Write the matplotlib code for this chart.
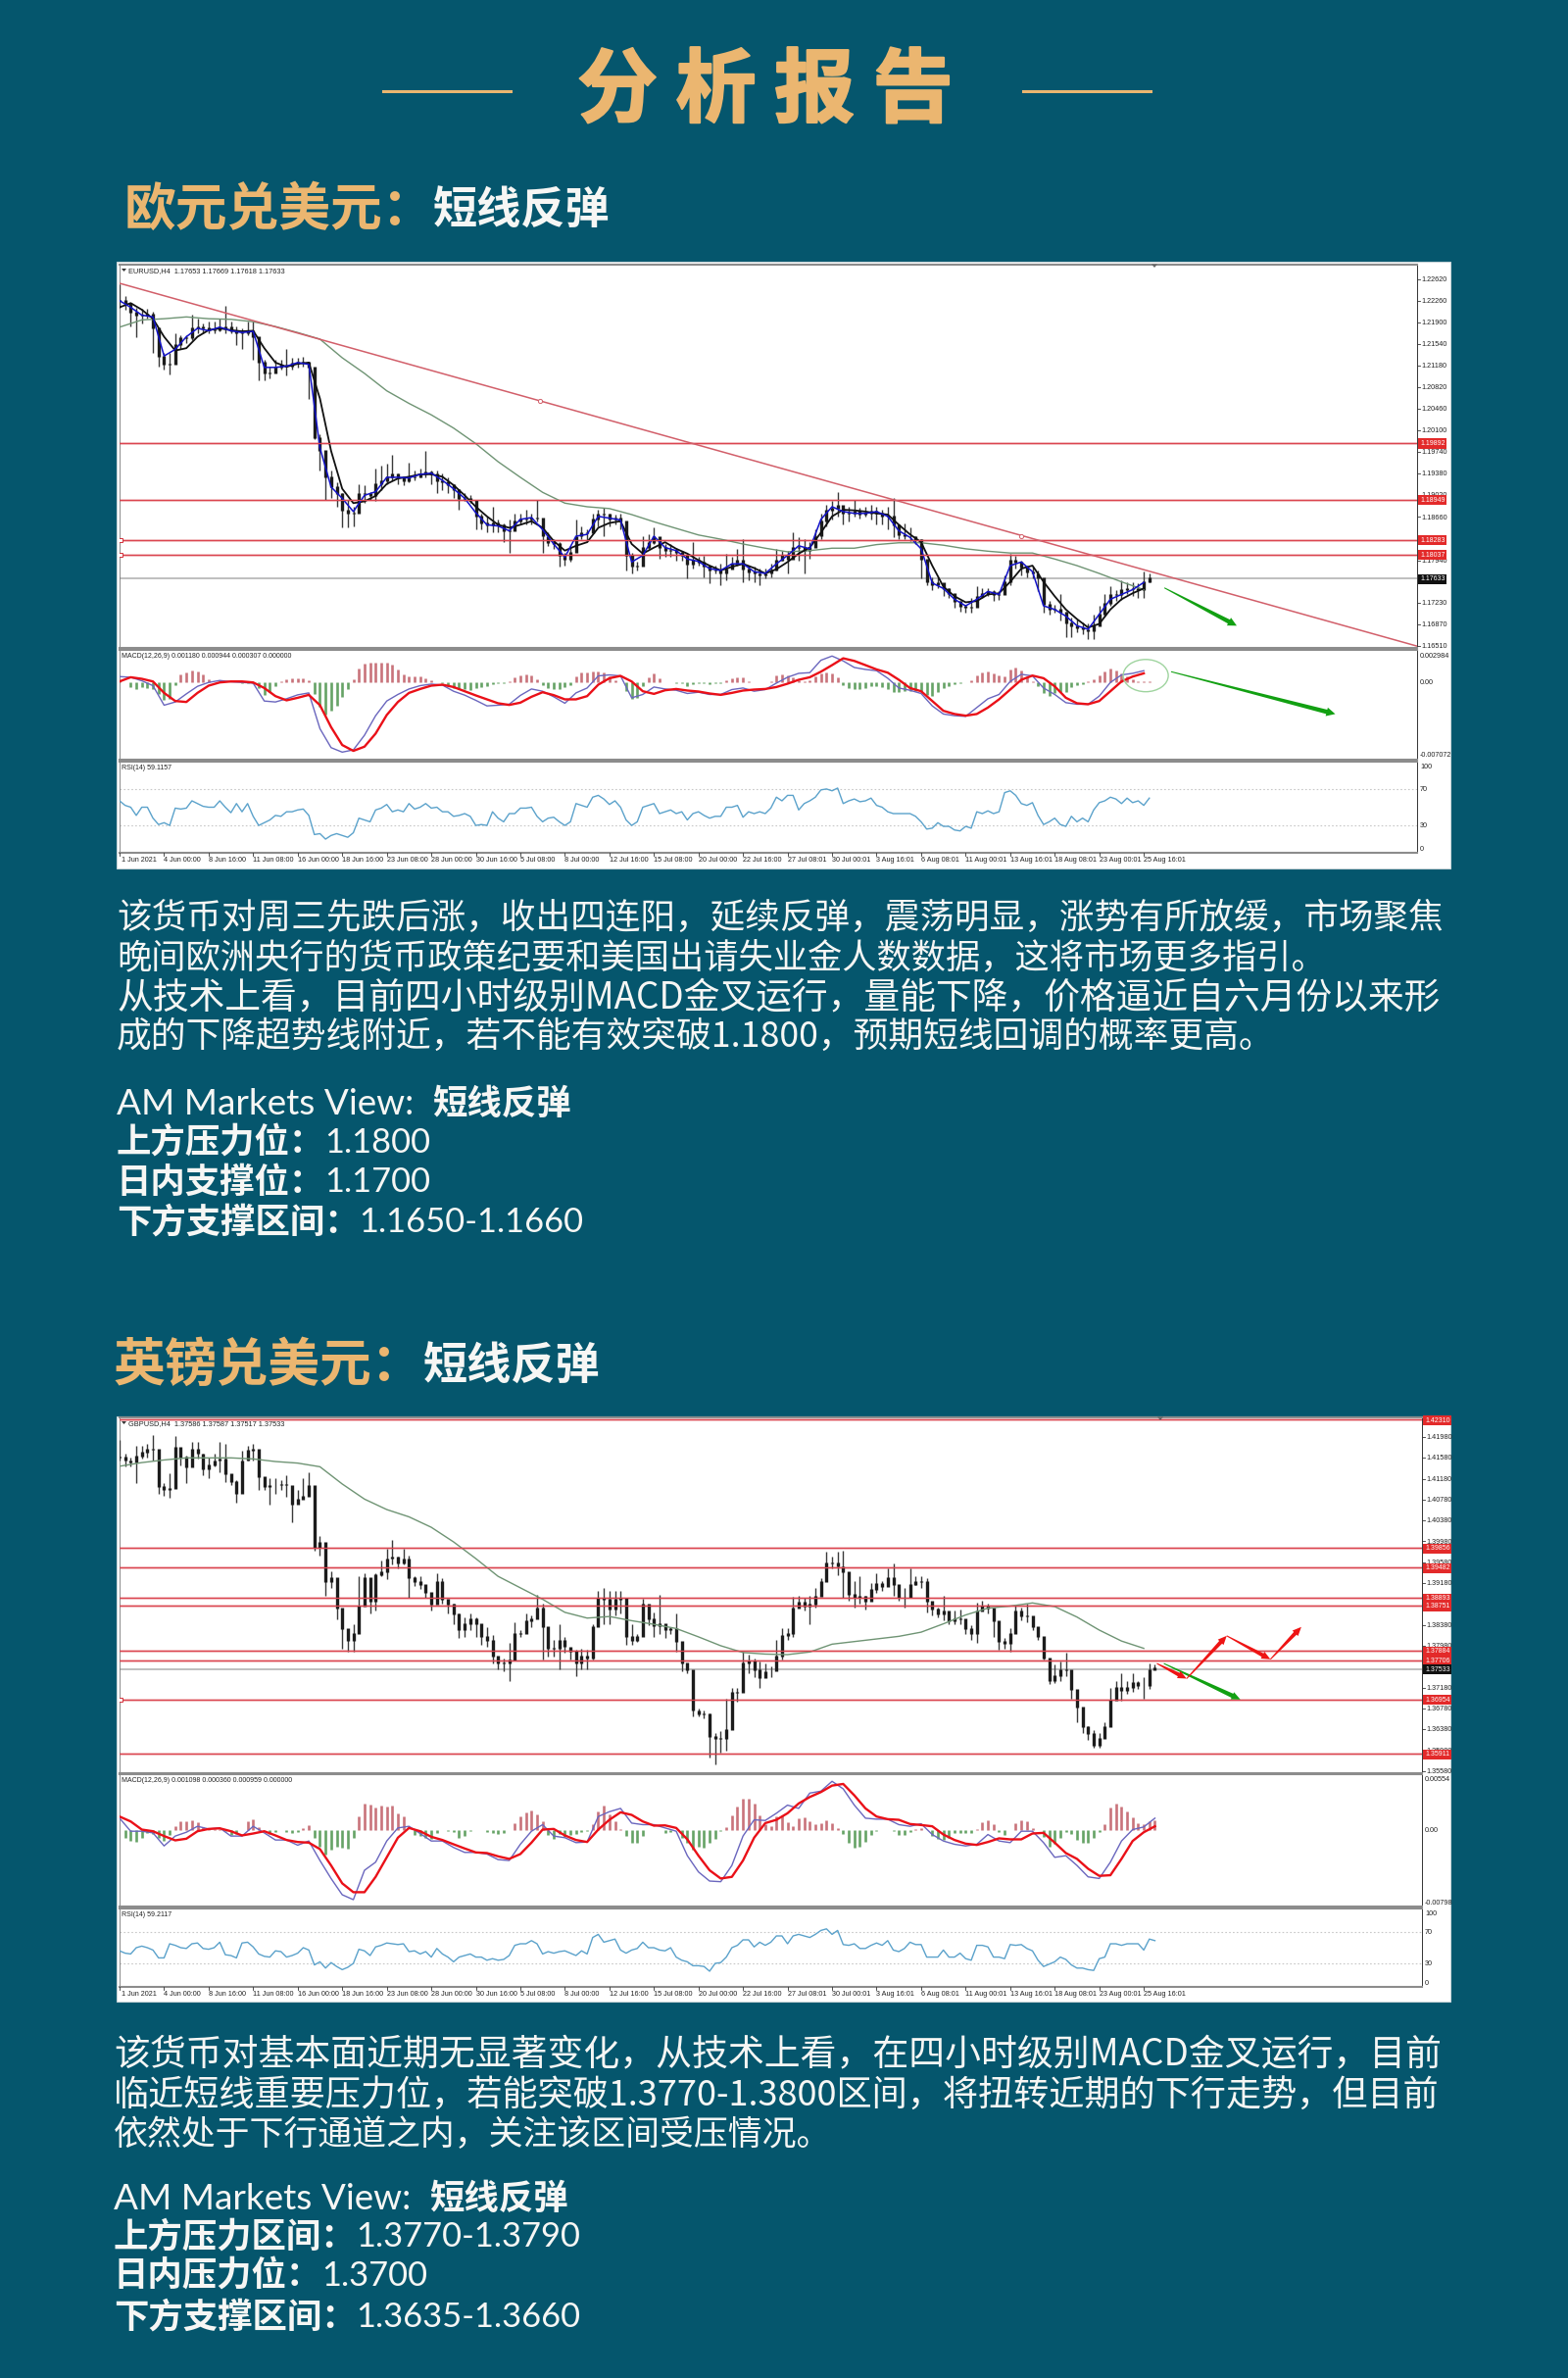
import matplotlib
matplotlib.use("Agg")
import numpy as np
import matplotlib.pyplot as plt
import matplotlib.patheffects as pe
from matplotlib.patches import Rectangle, Polygon, Ellipse
from matplotlib.transforms import IdentityTransform

W, H = 1600, 2426
CJK = ['Noto Sans CJK SC', 'DejaVu Sans']
plt.rcParams['font.family'] = CJK

# ---------- EURUSD H4 (prices in 1/10000, one candle per 2 bars, lines per 4 bars) ----------
eur_close = [12226,12221,12207,12202,12202,12204,12180,12134,12120,12120,12153,12164,12164,12180,12183,12180,12177,12178,12180,12182,
12176,12173,12172,12176,12166,12123,12106,12106,12116,12118,12117,12122,12123,12124,12115,11998,11976,11932,11916,11905,
11878,11872,11872,11905,11905,11902,11921,11927,11932,11938,11932,11927,11932,11933,11937,11941,11937,11927,11924,11919,
11911,11897,11897,11894,11867,11856,11853,11856,11852,11843,11843,11859,11862,11863,11864,11864,11834,11824,11821,11802,
11796,11807,11834,11840,11840,11862,11870,11870,11862,11864,11859,11802,11785,11785,11815,11824,11834,11815,11810,11810,
11807,11802,11788,11794,11791,11785,11777,11777,11772,11780,11788,11794,11780,11775,11772,11769,11772,11777,11794,11802,11796,
11815,11815,11810,11815,11834,11859,11878,11881,11885,11872,11872,11875,11870,11872,11875,11872,11867,11867,11853,11837,
11834,11834,11829,11796,11758,11753,11756,11747,11739,11726,11718,11715,11715,11734,11739,11742,11737,11737,11758,11794,
11791,11783,11775,11772,11764,11720,11712,11712,11707,11690,11685,11682,11679,11677,11685,11704,11723,11737,11737,11745,
11747,11747,11745,11758,11764]
eur_high = [12253,12234,12223,12215,12213,12213,12207,12161,12139,12139,12172,12169,12169,12202,12196,12188,12191,12191,12196,12218,
12191,12183,12180,12191,12191,12166,12128,12117,12128,12128,12145,12131,12131,12133,12125,12101,12003,11976,11943,11924,
11905,11894,11883,11921,11919,11908,11946,11951,11954,11970,11938,11932,11957,11943,11946,11976,11943,11943,11938,11932,
11921,11913,11905,11902,11894,11872,11867,11883,11862,11856,11862,11872,11872,11878,11872,11894,11862,11840,11829,11824,
11807,11818,11862,11851,11845,11872,11878,11881,11872,11870,11872,11851,11807,11791,11834,11837,11848,11824,11821,11821,
11815,11810,11805,11824,11799,11802,11785,11785,11788,11805,11799,11813,11829,11785,11783,11780,11780,11788,11813,11810,11810,
11840,11832,11829,11824,11845,11872,11886,11892,11908,11883,11883,11894,11881,11883,11886,11883,11878,11883,11897,11851,
11856,11848,11834,11829,11780,11766,11766,11756,11747,11737,11726,11720,11731,11750,11747,11747,11745,11742,11769,11805,
11802,11794,11785,11783,11777,11758,11726,11720,11737,11709,11699,11696,11690,11688,11704,11718,11737,11750,11745,11761,
11758,11758,11756,11775,11772]
eur_low = [12215,12211,12183,12166,12188,12196,12139,12117,12112,12104,12123,12145,12155,12161,12172,12172,12172,12172,12175,12172,
12172,12153,12145,12169,12128,12093,12093,12096,12112,12112,12101,12112,12115,12117,12063,11995,11943,11894,11897,11883,
11848,11848,11851,11889,11889,11894,11892,11911,11921,11927,11921,11919,11924,11927,11932,11932,11921,11905,11911,11905,
11897,11878,11892,11889,11845,11846,11840,11840,11840,11824,11807,11845,11853,11853,11853,11859,11807,11818,11813,11783,
11785,11791,11818,11829,11824,11840,11851,11834,11851,11853,11845,11777,11772,11777,11796,11813,11821,11796,11799,11799,
11794,11794,11764,11780,11785,11766,11756,11772,11752,11761,11780,11785,11758,11761,11758,11753,11764,11766,11777,11794,11772,
11796,11794,11772,11796,11818,11829,11851,11862,11867,11853,11859,11867,11864,11867,11862,11853,11853,11845,11832,11829,
11829,11826,11821,11764,11753,11744,11747,11734,11731,11715,11709,11707,11707,11720,11731,11734,11726,11728,11737,11753,
11780,11769,11766,11764,11742,11707,11704,11707,11693,11666,11666,11674,11671,11663,11663,11688,11701,11718,11726,11728,
11737,11734,11731,11731,11758]
eur_ma_fast = [12226,12215,12202,12199,12134,12145,12166,12180,12176,12182,12176,12173,12175,12115,12115,12117,12123,12120,11981,11916,
11897,11875,11902,11908,11932,11932,11931,11937,11939,11927,11913,11897,11873,11853,11851,11843,11862,11865,11845,11821,
11799,11834,11837,11867,11864,11861,11791,11802,11834,11815,11810,11796,11792,11780,11777,11788,11788,11775,11772,11788,11802,
11818,11813,11862,11883,11875,11872,11872,11875,11867,11843,11832,11813,11756,11747,11729,11718,11729,11742,11737,11785,
11791,11775,11718,11712,11701,11685,11679,11704,11729,11737,11745,11757]
eur_ma_mid = [12215,12222,12211,12196,12166,12143,12147,12166,12177,12180,12177,12175,12176,12147,12123,12116,12121,12123,12063,11976,
11913,11889,11892,11901,11921,11930,11933,11937,11937,11933,11919,11902,11883,11867,11853,11848,11853,11859,11848,11826,
11810,11818,11824,11848,11856,11859,11821,11805,11815,11824,11813,11805,11794,11785,11777,11783,11788,11781,11772,11779,11791,
11805,11815,11840,11867,11878,11877,11875,11872,11870,11853,11837,11824,11785,11750,11734,11724,11726,11737,11739,11758,
11780,11785,11758,11734,11712,11696,11682,11688,11712,11729,11739,11747]
# long moving average: one value per 8 bars
eur_ma_long = [12182,12194,12196,12199,12196,12195,12191,12183,12173,12162,12131,12105,12076,12055,12036,12014,11988,11958,11932,11907,
11889,11883,11880,11870,11858,11847,11836,11829,11821,11814,11808,11810,11814,11814,11820,11823,11823,11819,11813,11809,
11806,11806,11796,11785,11772,11758,11745]
eur_levels = [1.19892, 1.18949, 1.18283, 1.18037]
eur_last = 1.17633
eur_ticks = [1.22620,1.22260,1.21900,1.21540,1.21180,1.20820,1.20460,1.20100,1.19740,1.19380,1.19020,1.18660,1.17940,1.17230,1.16870,1.16510]
eur_trend_bars = [0, 466.2]
eur_trend_price = [1.2255, 1.1651]
# MACD in 1/1000: main and signal per 4 bars, histogram per 2 bars
eur_macd = [.60,.53,.17,-.33,-2.33,-2.0,-1.17,-.40,0,.2,.07,0,-.07,-1.9,-2.0,-1.67,-1.27,-1.07,-4.73,-6.67,-7.13,-6.9,-5.4,-3.4,-1.9,-1.23,-.67,-.33,-.17,-.27,
-.9,-1.3,-1.83,-2.4,-2.33,-2.23,-1.33,-.67,-.9,-1.47,-2.13,-1.07,-.57,.67,.77,.67,-1.57,-1.23,-.47,-.67,-.8,-1.13,-1.0,-1.23,-1.23,-.73,-.57,-.9,-.73,-.07,.53,
.93,1.0,2.27,2.7,2.2,1.53,1.33,1.2,.43,-.57,-.8,-1.13,-2.4,-3.23,-3.4,-3.47,-2.57,-1.67,-1.23,.1,.83,.67,-.57,-1.23,-2.07,-2.23,-2.23,-1.4,0,.77,.93,1.2]
eur_signal = [.1,.53,.37,.1,-1.07,-1.9,-2,-1.07,-.33,0,.1,.1,0,-.57,-1.4,-1.83,-1.57,-1.27,-2.33,-4.57,-6.4,-7,-6.57,-5.23,-3.33,-2,-1.07,-.67,-.33,-.23,
-.47,-.9,-1.33,-1.73,-2.13,-2.3,-2.07,-1.47,-1,-1.3,-1.73,-1.73,-1.4,-.23,.43,.67,.1,-.9,-1.17,-.8,-.67,-.83,-.93,-1.13,-1.27,-1.07,-.83,-.73,-.67,-.47,-.13,
.27,.53,1.1,1.77,2.47,2.2,1.77,1.33,1,.27,-.57,-.9,-1.9,-2.9,-3.23,-3.4,-3.23,-2.57,-1.73,-.73,.27,.7,.43,-.4,-1.57,-2.13,-2.23,-1.9,-.9,.1,.6,.93]
eur_hist = [.1,.03,-.5,-.7,-.5,-.55,-.7,-1.2,-1.75,-1.7,-.3,.8,1.05,1.2,1.15,.8,.35,.05,0,0,0,0,-.03,-.03,-.1,-.6,-1.25,-1.0,-.35,.1,.35,.45,.47,.45,.2,-1.2,-2.5,-3.3,-2.9,-2.4,-1.5,-.7,.3,1.4,1.9,2.0,2.0,2.05,2.0,1.85,1.3,.85,.65,.6,.6,.45,.2,0,-.1,-.4,-.6,-.7,-.65,-.8,-.6,-.5,-.4,-.2,-.07,-.03,.1,.5,.75,.85,.7,.3,-.3,-.6,-.65,-.65,-.5,-.3,.6,1.0,1.05,1.1,1.15,1.0,.6,.25,.05,-.85,-1.7,-1.6,-.4,.5,.9,.4,.05,.02,-.05,-.07,-.33,-.2,-.05,-.1,-.15,-.1,-.07,.2,.4,.55,.5,.1,.03,.05,.05,.1,.7,.8,.75,
.55,.25,.15,.25,.6,.9,1.05,.9,.5,-.3,-.55,-.65,-.65,-.55,-.35,-.35,-.5,-.7,-.95,-1.0,-.85,-.85,-.9,-1.0,-1.25,-1.35,-.95,-.6,-.35,-.15,-.05,0,.25,.7,1.05,1.1,.9,.7,.65,1.3,1.5,1.2,.6,.1,-.4,-1.1,-1.35,-1.1,-1.0,-.95,-.5,-.3,-.15,.1,.35,.7,1.1,1.4,1.2,.9,.6,.35,.15,.1,.15]
eur_rsi = [57,52,50,41,50,50,38,31,33,30,49,48,49,57,54,51,50,50,57,50,44,54,45,54,40,30,33,36,41,40,45,45,47,48,41,20,21,15,19,21,19,17,22,38,36,34,47,49,53,45,47,45,54,48,50,54,49,50,45,45,40,41,43,40,30,31,30,45,38,34,43,43,49,49,50,40,34,38,39,34,30,34,54,52,50,61,63,59,53,57,50,36,30,34,50,52,54,43,45,47,43,45,36,43,45,41,38,40,40,50,50,52,39,45,43,45,43,49,61,57,63,
63,47,54,57,61,69,70,68,71,54,57,59,56,57,60,52,50,45,43,43,43,43,40,34,26,27,33,29,29,25,24,29,27,45,43,46,43,45,66,68,63,54,52,55,41,31,34,38,31,29,40,34,38,34,47,55,57,61,59,54,60,55,57,52,60]

# ---------- GBPUSD H4 ----------
gbp_close = [14159,14153,14150,14162,14169,14175,14175,14103,14097,14100,14178,14159,14141,14175,14166,14137,14144,14153,14156,14128,
14112,14090,14153,14172,14175,14122,14103,14106,14106,14108,14106,14069,14078,14084,14106,13987,13997,13921,13928,13871,
13831,13809,13821,13874,13928,13884,13934,13940,13965,13968,13956,13965,13928,13921,13915,13900,13878,13921,13887,13878,
13859,13828,13840,13849,13840,13815,13809,13778,13765,13765,13771,13821,13821,13846,13849,13871,13834,13793,13793,13809,
13796,13787,13765,13778,13774,13834,13890,13887,13868,13887,13890,13815,13809,13815,13878,13849,13837,13840,13828,13831,
13806,13765,13752,13674,13668,13668,13624,13621,13621,13637,13709,13709,13765,13768,13752,13737,13749,13749,13778,13818,13821,
13871,13881,13874,13878,13893,13921,13956,13956,13950,13940,13896,13890,13893,13884,13906,13918,13912,13928,13915,13890,
13890,13915,13921,13921,13884,13868,13859,13865,13846,13849,13849,13831,13821,13865,13874,13871,13846,13806,13803,13821,
13865,13856,13856,13834,13815,13774,13731,13740,13752,13752,13715,13680,13643,13630,13608,13621,13643,13693,13718,13712,
13718,13727,13721,13721,13752,13755]
gbp_high = [14192,14166,14159,14181,14181,14184,14202,14153,14109,14128,14200,14172,14162,14188,14188,14166,14159,14166,14188,14184,
14122,14116,14172,14181,14184,14156,14119,14119,14119,14116,14125,14087,14097,14119,14131,14103,14009,13962,13940,13912,
13862,13828,13840,13931,13937,13915,13937,13962,13984,14000,13968,13984,13971,13931,13931,13915,13893,13937,13928,13887,
13878,13859,13853,13859,13853,13840,13834,13818,13774,13774,13803,13843,13828,13859,13856,13896,13878,13809,13809,13840,
13815,13793,13790,13793,13790,13840,13903,13909,13904,13903,13903,13859,13840,13821,13889,13865,13862,13896,13840,13834,
13859,13787,13759,13712,13677,13674,13668,13630,13634,13696,13718,13718,13787,13781,13774,13768,13765,13759,13809,13831,13831,
13891,13893,13890,13893,13909,13928,13978,13968,13978,13981,13909,13921,13931,13893,13918,13937,13921,13946,13956,13900,
13909,13946,13931,13931,13928,13878,13871,13893,13853,13865,13868,13846,13837,13881,13885,13878,13865,13815,13812,13831,
13874,13871,13878,13843,13834,13809,13774,13762,13768,13784,13740,13696,13652,13643,13637,13630,13652,13718,13731,13746,
13731,13746,13731,13737,13765,13762]
gbp_low = [14153,14141,14141,14110,14156,14159,14153,14090,14085,14081,14122,14144,14109,14144,14156,14125,14119,14141,14131,14112,
14106,14072,14106,14153,14153,14097,14097,14069,14090,14097,14084,14034,14072,14081,14097,13981,13971,13893,13909,13849,
13793,13787,13787,13871,13909,13859,13865,13931,13925,13953,13947,13953,13890,13912,13906,13890,13865,13893,13878,13859,
13840,13812,13815,13828,13815,13799,13796,13765,13752,13749,13731,13799,13815,13834,13834,13856,13771,13778,13778,13752,
13784,13771,13740,13752,13752,13771,13853,13840,13840,13856,13859,13799,13799,13806,13840,13837,13815,13821,13812,13821,
13787,13749,13746,13662,13662,13659,13583,13571,13593,13596,13690,13690,13727,13746,13737,13718,13740,13737,13752,13771,13809,
13815,13871,13865,13840,13871,13900,13928,13946,13934,13890,13884,13871,13878,13868,13884,13900,13903,13912,13893,13884,
13871,13900,13915,13909,13862,13856,13853,13846,13840,13840,13840,13821,13809,13803,13865,13859,13815,13790,13793,13787,
13846,13846,13843,13828,13809,13771,13724,13727,13731,13740,13696,13652,13630,13618,13602,13602,13627,13652,13702,13693,
13706,13709,13715,13696,13715,13752]
gbp_ma_long = [14142,14149,14154,14158,14158,14158,14156,14151,14148,14141,14108,14079,14059,14045,14025,13997,13965,13931,13909,13887,
13862,13851,13854,13846,13839,13831,13815,13798,13785,13782,13781,13786,13801,13806,13811,13816,13824,13840,13857,13870,
13874,13880,13873,13853,13828,13807,13793]
gbp_levels = [1.42310, 1.39856, 1.39482, 1.38893, 1.38751, 1.37884, 1.37706, 1.36954, 1.35911]
gbp_last = 1.37533
gbp_ticks = [1.41980,1.41580,1.41180,1.40780,1.40380,1.39980,1.39580,1.39180,1.38380,1.37980,1.37180,1.36780,1.36380,1.35980,1.35580]
gbp_macd = [1.25,-.18,-.18,-.36,-1.79,-.71,-.29,.36,.07,.18,-.71,-.71,.36,-.36,-1.14,-1.14,-1.71,-1.25,-3.39,-5.36,-7.14,-7.68,-4.46,-3.57,-1.25,.18,.36,-.43,-1.25,-1.25,
-1.96,-2.5,-2.5,-2.68,-3.29,-3.39,-1.61,-.18,.54,-.71,-.89,-1.43,-1.36,1.43,1.96,2.32,.71,.54,.54,.18,-.18,-2.86,-4.64,-5.64,-5.71,-3.93,-.71,1.07,1.0,1.79,2.68,
2.32,4.0,4.21,5.29,4.46,2.68,1.25,1.14,1.14,.54,.36,.64,-.54,-1.25,-1.61,-1.79,-1.61,-.54,-1.25,-1.43,-.18,-.18,-1.43,-3.04,-2.86,-3.93,-5.18,-5.36,-3.57,-1.25,0,.29,1.25]
gbp_signal = [1.43,.89,0,-.18,-.71,-1.18,-1.0,-.18,.07,.14,-.18,-.64,-.43,-.18,-.64,-1.14,-1.36,-1.43,-2.14,-3.93,-5.89,-6.86,-6.86,-5.18,-3.04,-.89,.18,-.18,-.79,-1.14,
-1.61,-2.07,-2.5,-2.57,-2.93,-3.21,-2.68,-1.43,0,.07,-.64,-1.14,-1.36,0,1.07,1.89,1.61,.89,.43,.46,.18,-1.07,-2.86,-4.46,-5.36,-5.18,-3.39,-.89,.71,1.07,1.79,
2.86,3.57,4.11,4.82,5.0,3.75,2.32,1.43,1.14,1.07,.61,.5,.36,-.54,-1.14,-1.54,-1.68,-1.36,-.96,-1.07,-1.07,-.43,-.36,-1.43,-2.57,-3.21,-4.29,-5.07,-5,-3.21,-1.25,-.29,.36]
gbp_hist = [0,-.9,-1.2,-1.3,-.9,-.4,-.5,-.9,-1.2,-.6,.4,.9,.9,1.0,.8,.3,.05,.05,.05,-.2,-.6,-.5,-.1,.9,1.1,.3,-.1,-.5,-.3,-.1,-.3,-.4,-.3,.2,.5,-.9,-1.9,-2.7,-2.2,-1.9,-2.0,-2.1,-.9,1.4,2.9,2.7,2.4,2.6,2.5,2.6,1.8,1.4,-.1,-.6,-.7,-.9,-1.0,-.4,-.1,-.2,-.3,-.9,-.7,-.2,-.05,-.05,-.3,-.4,-.5,-.4,-.1,.7,1.4,1.9,2.1,1.7,.9,-.6,-1.0,-.5,-.8,-.6,-.5,-.3,-.2,.6,2.0,2.6,1.7,.9,.1,-.7,-1.4,-1.5,-.7,-.05,0,-.1,-.4,-.3,-.1,-.9,-1.5,-2.2,-1.9,-2.0,-1.4,-1.0,-.2,.3,1.6,2.5,3.4,3.4,2.9,1.6,.6,.4,1.4,1.6,.8,
.4,1.2,1.3,.9,.6,.7,1.0,.7,.2,-.5,-1.5,-2.0,-1.9,-1.3,-.6,-.2,-.05,0,-.2,-.6,-.6,-.3,.1,.2,0,-.7,-1.0,-1.1,-.9,-.4,-.4,-.4,-.4,.1,.8,1.0,.6,-.3,-.6,-.1,.7,1.0,.9,.2,-.1,-.8,-1.9,-1.6,-.9,-.3,-.5,-1.1,-1.5,-1.4,-.9,-.3,.6,2.4,2.9,2.5,2.0,1.3,.7,.6,.9,1.0]
gbp_rsi = [46,43,42,50,52,50,47,37,37,55,53,50,49,55,56,49,48,50,57,41,40,37,56,57,51,42,39,38,46,45,38,40,43,50,47,28,32,24,31,26,22,25,30,48,46,40,51,53,56,55,54,55,45,46,42,45,38,49,42,38,32,38,40,42,38,38,34,36,34,35,40,53,55,55,59,55,42,45,43,45,46,43,40,46,42,63,67,57,59,61,47,43,47,49,57,50,50,47,46,50,38,34,32,27,27,26,20,30,31,38,50,53,60,60,51,57,53,57,65,65,55,
65,67,65,63,67,72,74,67,72,54,53,55,49,49,53,56,53,59,47,45,49,57,54,54,38,38,38,47,38,38,43,36,34,53,53,51,38,38,36,54,53,54,49,46,34,26,29,32,38,35,28,24,24,22,21,36,38,55,55,53,55,55,55,47,61,59]

date_labels = ['1 Jun 2021','4 Jun 00:00','8 Jun 16:00','11 Jun 08:00','16 Jun 00:00','18 Jun 16:00','23 Jun 08:00','28 Jun 00:00',
'30 Jun 16:00','5 Jul 08:00','8 Jul 00:00','12 Jul 16:00','15 Jul 08:00','20 Jul 00:00','22 Jul 16:00','27 Jul 08:01',
'30 Jul 00:01','3 Aug 16:01','6 Aug 08:01','11 Aug 00:01','13 Aug 16:01','18 Aug 08:01','23 Aug 00:01','25 Aug 16:01']
date_step = 16

BG = '#05566D'; GOLD = '#EBB670'; WHITE = '#F6F6F4'
fig = plt.figure(figsize=(W/100, H/100), dpi=100, facecolor=BG)
rend = fig.canvas.get_renderer()

def px_ax(x0, y0, x1, y1):
    a = fig.add_axes([x0/W, 1-y1/H, (x1-x0)/W, (y1-y0)/H], facecolor='white')
    a.set_xticks([]); a.set_yticks([])
    return a

def ptext(x, y, s, fs, color=WHITE, weight='normal', family=None, ha='left', va='center', fit=None, zorder=5, **kw):
    y = y + fs*0.12
    t = fig.text(x/W, 1-y/H, s, fontsize=fs, color=color, fontweight=weight,
                 family=family or CJK, ha=ha, va=va, zorder=zorder, **kw)
    if fit:
        w = t.get_window_extent(rend).width
        t.set_fontsize(fs*(fit-x)/w)
    return t

def runs(x, y, parts):
    for s, fs, weight, fam in parts:
        t = ptext(x, y, s, fs, weight=weight, family=fam)
        x = t.get_window_extent(rend).x1

def taper(ax, b0, p0, b1, p1, color, w0=1.0, w1=5.0, head=11.0, hl=12.0):
    a = ax.transData.transform((b0, p0)); b = ax.transData.transform((b1, p1))
    d = (b-a)/np.hypot(*(b-a)); n = np.array([-d[1], d[0]])
    neck = b-d*hl
    pts = [a+n*w0/2, neck+n*w1/2, neck+n*head/2, b, neck-n*head/2, neck-n*w1/2, a-n*w0/2]
    fig.add_artist(Polygon(pts, closed=True, color=color, lw=0, transform=IdentityTransform(), zorder=3))

SM = ['Liberation Sans', 'DejaVu Sans']
def small(ax_x, y, s, color='#222222', **kw):
    return ptext(ax_x, y, s, 5.2, color=color, family=SM, **kw)

def style_panel(a, xmax):
    a.set_xlim(0, xmax)
    for side in ('top', 'bottom'):
        a.spines[side].set_color('#8c8c8c'); a.spines[side].set_linewidth(1.5)
    a.spines['left'].set_color('#777777'); a.spines['left'].set_linewidth(0.6)
    a.spines['right'].set_color('#333333'); a.spines['right'].set_linewidth(0.7)

def level_label(ax, price, text, x, color='#E32A2A', tc='white'):
    yp = ax.transData.transform((0, price))[1]
    ptext(x, H-yp, text, 5.0, color=tc, family=SM, zorder=6,
          bbox=dict(boxstyle='square,pad=0.22', fc=color, ec='none'))

def draw_chart(frame, main, macd, rsi, xr, hdr, ind, close, high, low, mal, levels, last, ticks, pyl,
               m_main, m_sig, m_hist, m_ylim, m_lab, rsi_v, rsi_ylim, fast=None, mid=None):
    fx0, fy0, fx1, fy1 = frame
    fig.add_artist(Rectangle((fx0/W, 1-fy1/H), (fx1-fx0)/W, (fy1-fy0)/H, transform=fig.transFigure,
                             fc='white', ec='#c8d4d8', lw=0.8, zorder=-5))
    xmax = (xr-122)/2.84
    # --- price panel
    a = px_ax(122, main[0], xr, main[1]); style_panel(a, xmax); a.set_ylim(*pyl)
    bars = np.arange(len(close))*2
    c = np.array(close)/1e4; h = np.array(high)/1e4; l = np.array(low)/1e4
    a.vlines(bars, l, h, color='#3a3a3a', lw=1.0, zorder=3)
    o = np.r_[c[0], c[:-1]]
    lo_b = np.minimum(o, c)-0.00008; hi_b = np.maximum(o, c)+0.00008
    a.vlines(bars, lo_b, hi_b, color='#1c1c1c', lw=2.4, zorder=3)
    a.plot(np.arange(len(mal))*8, np.array(mal)/1e4, color='#6f9474', lw=1.0, zorder=4)
    if mid is not None:
        a.plot(np.arange(len(mid))*4, np.array(mid)/1e4, color='#111111', lw=1.3, zorder=5)
    if fast is not None:
        a.plot(np.arange(len(fast))*4, np.array(fast)/1e4, color='#1212c8', lw=1.1, zorder=6)
    for lv in levels:
        a.axhline(lv, color='#F4C9CB', lw=2.0, zorder=2)
        a.axhline(lv, color='#DB4550', lw=0.9, zorder=7)
    a.axhline(last, color='#b4b4b4', lw=1.2, zorder=2)
    lab_x = xr+4
    for t in ticks:
        yp = H-a.transData.transform((0, t))[1]
        small(lab_x, yp, f'{t:.5f}')
        fig.add_artist(plt.Line2D([xr/W, (xr+3)/W], [1-yp/H]*2, color='#333333', lw=0.6))
    ptext(131, main[0]+5.5, hdr, 5.3, color='#222222', family=SM)
    fig.add_artist(Polygon([[124, H-main[0]-4], [129, H-main[0]-4], [126.5, H-main[0]-7]], closed=True, color='#333333',
                           lw=0, transform=IdentityTransform(), zorder=5))
    lx = 1178 if xr < 1450 else 1184
    fig.add_artist(Polygon([[lx-3, H-main[0]+0.5], [lx+3, H-main[0]+0.5], [lx, H-main[0]-3]], closed=True, color='#666666',
                           lw=0, transform=IdentityTransform(), zorder=5))
    # --- MACD panel
    b = px_ax(122, macd[0], xr, macd[1]); style_panel(b, xmax); b.set_ylim(*m_ylim)
    hb = np.arange(len(m_hist))*2; hv = np.array(m_hist)
    b.vlines(hb, 0, hv, colors=['#C9737B' if v >= 0 else '#66A366' for v in hv], lw=1.9, zorder=2)
    b.plot(np.arange(len(m_main))*4, m_main, color='#6A66BE', lw=1.0, zorder=3)
    b.plot(np.arange(len(m_sig))*4, m_sig, color='#EA1018', lw=1.7, zorder=4)
    ptext(124, macd[0]+5.5, ind[0], 5.0, color='#222222', family=SM)
    for v, txt in m_lab:
        yp = H-b.transData.transform((0, v))[1]
        small(lab_x-1, yp, txt)
    # --- RSI panel
    r = px_ax(122, rsi[0], xr, rsi[1]); style_panel(r, xmax); r.set_ylim(*rsi_ylim)
    for lv in (70, 30):
        r.axhline(lv, color='#c8c8c8', lw=0.8, ls=(0, (1.5, 2)), zorder=1)
    r.plot(np.arange(len(rsi_v))*2, rsi_v, color='#5BA2CB', lw=1.0, zorder=3)
    ptext(124, rsi[0]+6, ind[1], 5.0, color='#222222', family=SM)
    for lv, off, txt in ((100, 5, '100'), (70, 0, '70'), (30, 0, '30'), (0, -4, '0')):
        yp = H-r.transData.transform((0, lv))[1]+off
        small(lab_x-1, yp, txt)
    for i, s in enumerate(date_labels):
        bx = i*date_step
        xp = r.transData.transform((bx, 0))[0]
        small(xp+(0 if i else 2), rsi[1]+7, s)
        fig.add_artist(plt.Line2D([xp/W]*2, [1-rsi[1]/H, 1-(rsi[1]+3)/H], color='#333333', lw=0.6))
    return a, b, r

# ---------- page titles ----------
ttl = ptext(781, 87, '分 析 报 告', 59, color=GOLD, weight='bold', ha='center')
ttl.set_path_effects([pe.withStroke(linewidth=1.6, foreground=GOLD)])
for x0, x1 in ((391, 521), (1044, 1174)):
    fig.add_artist(plt.Line2D([x0/W, x1/W], [1-93/H]*2, color=GOLD, lw=2.2))

ptext(127, 210, '欧元兑美元：', 38, color=GOLD, weight='bold')
ptext(442, 212, '短线反弹', 32.5, weight='bold')
ptext(116, 1389, '英镑兑美元：', 38, color=GOLD, weight='bold')
ptext(432, 1391, '短线反弹', 32.5, weight='bold')

body1 = [('该货币对周三先跌后涨，收出四连阳，延续反弹，震荡明显，涨势有所放缓，市场聚焦', 934, 1470),
         ('晚间欧洲央行的货币政策纪要和美国出请失业金人数数据，这将市场更多指引。', 975, 1351),
         ('从技术上看，目前四小时级别MACD金叉运行，量能下降，价格逼近自六月份以来形', 1015, 1470),
         ('成的下降超势线附近，若不能有效突破1.1800，预期短线回调的概率更高。', 1055, 1300)]
for s, y, xe in body1:
    ptext(119, y, s, 25.5, fit=xe)
body2 = [('该货币对基本面近期无显著变化，从技术上看，在四小时级别MACD金叉运行，目前', 2094, 1470),
         ('临近短线重要压力位，若能突破1.3770-1.3800区间，将扭转近期的下行走势，但目前', 2135, 1470),
         ('依然处于下行通道之内，关注该区间受压情况。', 2175, 848)]
for s, y, xe in body2:
    ptext(116, y, s, 25.5, fit=xe)

LAT = ['Lato', 'DejaVu Sans']
def view(x, ys, rows):
    runs(x, ys[0], [('AM Markets View:', 26.6, 'normal', LAT), ('  ', 26.6, 'normal', LAT), ('短线反弹', 25.5, 'bold', CJK)])
    for y, (lab, val) in zip(ys[1:], rows):
        runs(x, y, [(lab, 25.5, 'bold', CJK), (val, 24.8, 'normal', LAT)])
view(119, [1123, 1163, 1203, 1244], [('上方压力位：', '1.1800'), ('日内支撑位：', '1.1700'), ('下方支撑区间：', '1.1650-1.1660')])
view(116, [2240, 2279, 2319, 2361], [('上方压力区间：', '1.3770-1.3790'), ('日内压力位：', '1.3700'), ('下方支撑区间：', '1.3635-1.3660')])

# ---------- charts ----------
a1, b1, r1 = draw_chart((119, 267, 1480, 886), (270, 661), (663, 775), (777, 870), 1446,
    'EURUSD,H4  1.17653 1.17669 1.17618 1.17633',
    ('MACD(12,26,9) 0.001180 0.000944 0.000307 0.000000', 'RSI(14) 59.1157'),
    eur_close, eur_high, eur_low, eur_ma_long, eur_levels, eur_last, eur_ticks, (1.1648, 1.2286),
    eur_macd, eur_signal, eur_hist, (-7.9, 3.33), [(2.75, '0.002984'), (0, '0.00'), (-7.35, '-0.007072')],
    eur_rsi, (0, 100), fast=eur_ma_fast, mid=eur_ma_mid)
a1.plot(eur_trend_bars, eur_trend_price, color='#D25F6A', lw=1.1, zorder=7)
a1.plot([151, 324], [1.20590, 1.1834], ls='none', marker='o', ms=3, mfc='white', mec='#D25F6A', mew=0.7, zorder=8)
a1.plot([0.5, 0.5], [1.18283, 1.18037], ls='none', marker='s', ms=2.5, mfc='white', mec='#D2303A', mew=0.7, zorder=8)
for lv, s in ((1.19892, '1.19892'), (1.18949, '1.18949'), (1.18283, '1.18283'), (1.18037, '1.18037')):
    level_label(a1, lv, s, 1449)
level_label(a1, eur_last, '1.17633', 1449, color='#111111')
taper(a1, 375.4, 1.1748, 401.4, 1.1685, '#12A012', w0=1.0, w1=4.5, head=9, hl=9)
taper(b1, 377.8, 1.1, 436.8, -3.23, '#12A012', w0=1.0, w1=4.5, head=9, hl=9)
b1.add_patch(Ellipse((368.7, 0.7), 16.2, 3.3, fc='none', ec='#9FD49F', lw=1.0, zorder=6))

a2, b2, r2 = draw_chart((119, 1445, 1480, 2042), (1446, 1809), (1810, 1945), (1947, 2027), 1451,
    'GBPUSD,H4  1.37586 1.37587 1.37517 1.37533',
    ('MACD(12,26,9) 0.001098 0.000360 0.000959 0.000000', 'RSI(14) 59.2117'),
    gbp_close, gbp_high, gbp_low, gbp_ma_long, gbp_levels, gbp_last, gbp_ticks, (1.35537, 1.42356),
    gbp_macd, gbp_signal, gbp_hist, (-8.43, 6.07), [(5.54, '0.00554'), (0, '0.00'), (-8.02, '-0.00798')],
    gbp_rsi, (0, 100))
a2.plot([0.5], [1.36954], ls='none', marker='s', ms=2.5, mfc='white', mec='#D2303A', mew=0.7, zorder=8)
for lv in gbp_levels:
    level_label(a2, lv, f'{lv:.5f}', 1454)
level_label(a2, gbp_last, '1.37533', 1454, color='#111111')
taper(a2, 375.2, 1.3764, 402.7, 1.3695, '#12A012', w0=1.0, w1=4.5, head=8, hl=9)
for (b0, p0, b1_, p1) in ((372.7, 1.3764, 383.4, 1.3735), (383.4, 1.3735, 397.8, 1.3817),
                          (397.8, 1.3817, 413.5, 1.3772), (413.5, 1.3772, 424.6, 1.3834)):
    taper(a2, b0, p0, b1_, p1, '#EE1414', w0=1.0, w1=4.0, head=8, hl=9)

fig.savefig('out.png', dpi=100, facecolor=BG)
